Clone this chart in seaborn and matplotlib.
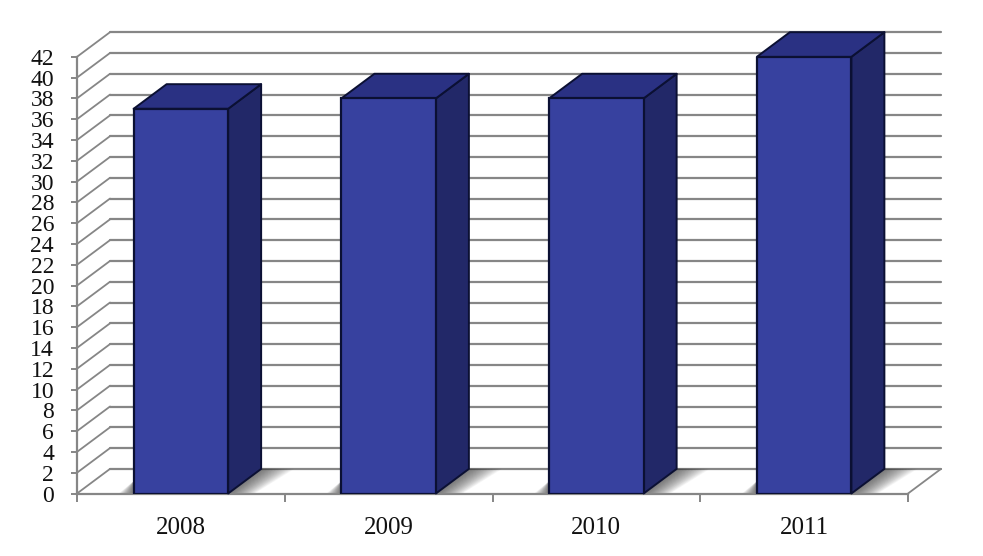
import numpy as np
import pandas as pd
import seaborn as sns
import matplotlib.pyplot as plt
from matplotlib.patches import Polygon

years = ["2008", "2009", "2010", "2011"]
values = [37, 38, 38, 42]
y_ticks = np.arange(0, 44, 2)

grey = "#868686"
front = "#37419f"
top = "#2a3183"
side = "#222868"
edge = "#0b1033"

W, H = 983, 556
sns.set_theme(style="white")
plt.rcParams["font.family"] = ["Liberation Serif", "DejaVu Serif"]

fig = plt.figure(figsize=(W / 100, H / 100), dpi=100)
ax = fig.add_axes([77 / W, 1 - 493.5 / H, (908 - 77) / W, (493.5 - 56.8) / H])

df = pd.DataFrame({"year": years, "value": values})
sns.barplot(data=df, x="year", y="value", color=front, saturation=1, width=0.455,
            edgecolor=edge, linewidth=1.6, ax=ax, zorder=5)
ax.set_xlim(-0.5, 3.5)
ax.set_ylim(0, 42)
ax.set_xlabel("")
ax.set_ylabel("")

# depth of the fake 3d box, in data units
dx = 33 / 207.75
dy = 24.6 / (436.7 / 42)

# back wall lines + diagonals
x0, x1 = ax.get_xlim()
for v in y_ticks:
    ax.plot([x0 + dx, x1 + dx], [v + dy, v + dy], color=grey, lw=1.6, clip_on=False, zorder=1)
    ax.plot([x0, x0 + dx], [v, v + dy], color=grey, lw=1.3, clip_on=False, zorder=1)
ax.plot([x1, x1 + dx], [0, dy], color=grey, lw=1.3, clip_on=False, zorder=1)

# floor shadows, stacked see-through polygons
for bar in list(ax.patches):
    bx0 = bar.get_x()
    bx1 = bx0 + bar.get_width()
    h = bar.get_height()
    steps = 22
    for i in range(steps):
        f = (i + 1) / steps
        reach = 0.16 * f
        # right of the bar
        ax.add_patch(Polygon([(bx1, 0), (bx1 + dx, dy), (bx1 + dx + reach, dy),
                              (bx1 + reach * 0.8, 0)],
                             fc="#333333", ec="none", alpha=0.045, clip_on=False, zorder=2))
        # left of the bar
        ax.add_patch(Polygon([(bx0, 0), (bx0, dy * 0.5), (bx0 - reach * 0.45, 0)],
                             fc="#333333", ec="none", alpha=0.045, clip_on=False, zorder=2))
    ax.add_patch(Polygon([(bx1, 0), (bx1 + dx, dy), (bx1 + dx, h + dy), (bx1, h)],
                         fc=side, ec=edge, lw=1.4, clip_on=False, zorder=4, joinstyle="round"))
    ax.add_patch(Polygon([(bx0, h), (bx0 + dx, h + dy), (bx1 + dx, h + dy), (bx1, h)],
                         fc=top, ec=edge, lw=1.4, clip_on=False, zorder=4, joinstyle="round"))

# axes
sns.despine(ax=ax, top=True, right=True)
for s in ("left", "bottom"):
    ax.spines[s].set_color(grey)
    ax.spines[s].set_linewidth(1.6)
    ax.spines[s].set_zorder(3)
ax.set_yticks(y_ticks)
ax.set_yticklabels([str(v) for v in y_ticks])
ax.set_xticks(np.arange(-0.5, 4, 1), minor=True)
ax.tick_params(axis="y", which="major", left=True, length=4.5, width=1.4, color=grey,
               labelsize=17, labelcolor="#111111", pad=12)
ax.tick_params(axis="x", which="major", bottom=False, labelsize=18, labelcolor="#111111", pad=11)
ax.tick_params(axis="x", which="minor", bottom=True, length=6, width=1.4, color=grey)

fig.savefig("out.png", dpi=100, facecolor="white")
